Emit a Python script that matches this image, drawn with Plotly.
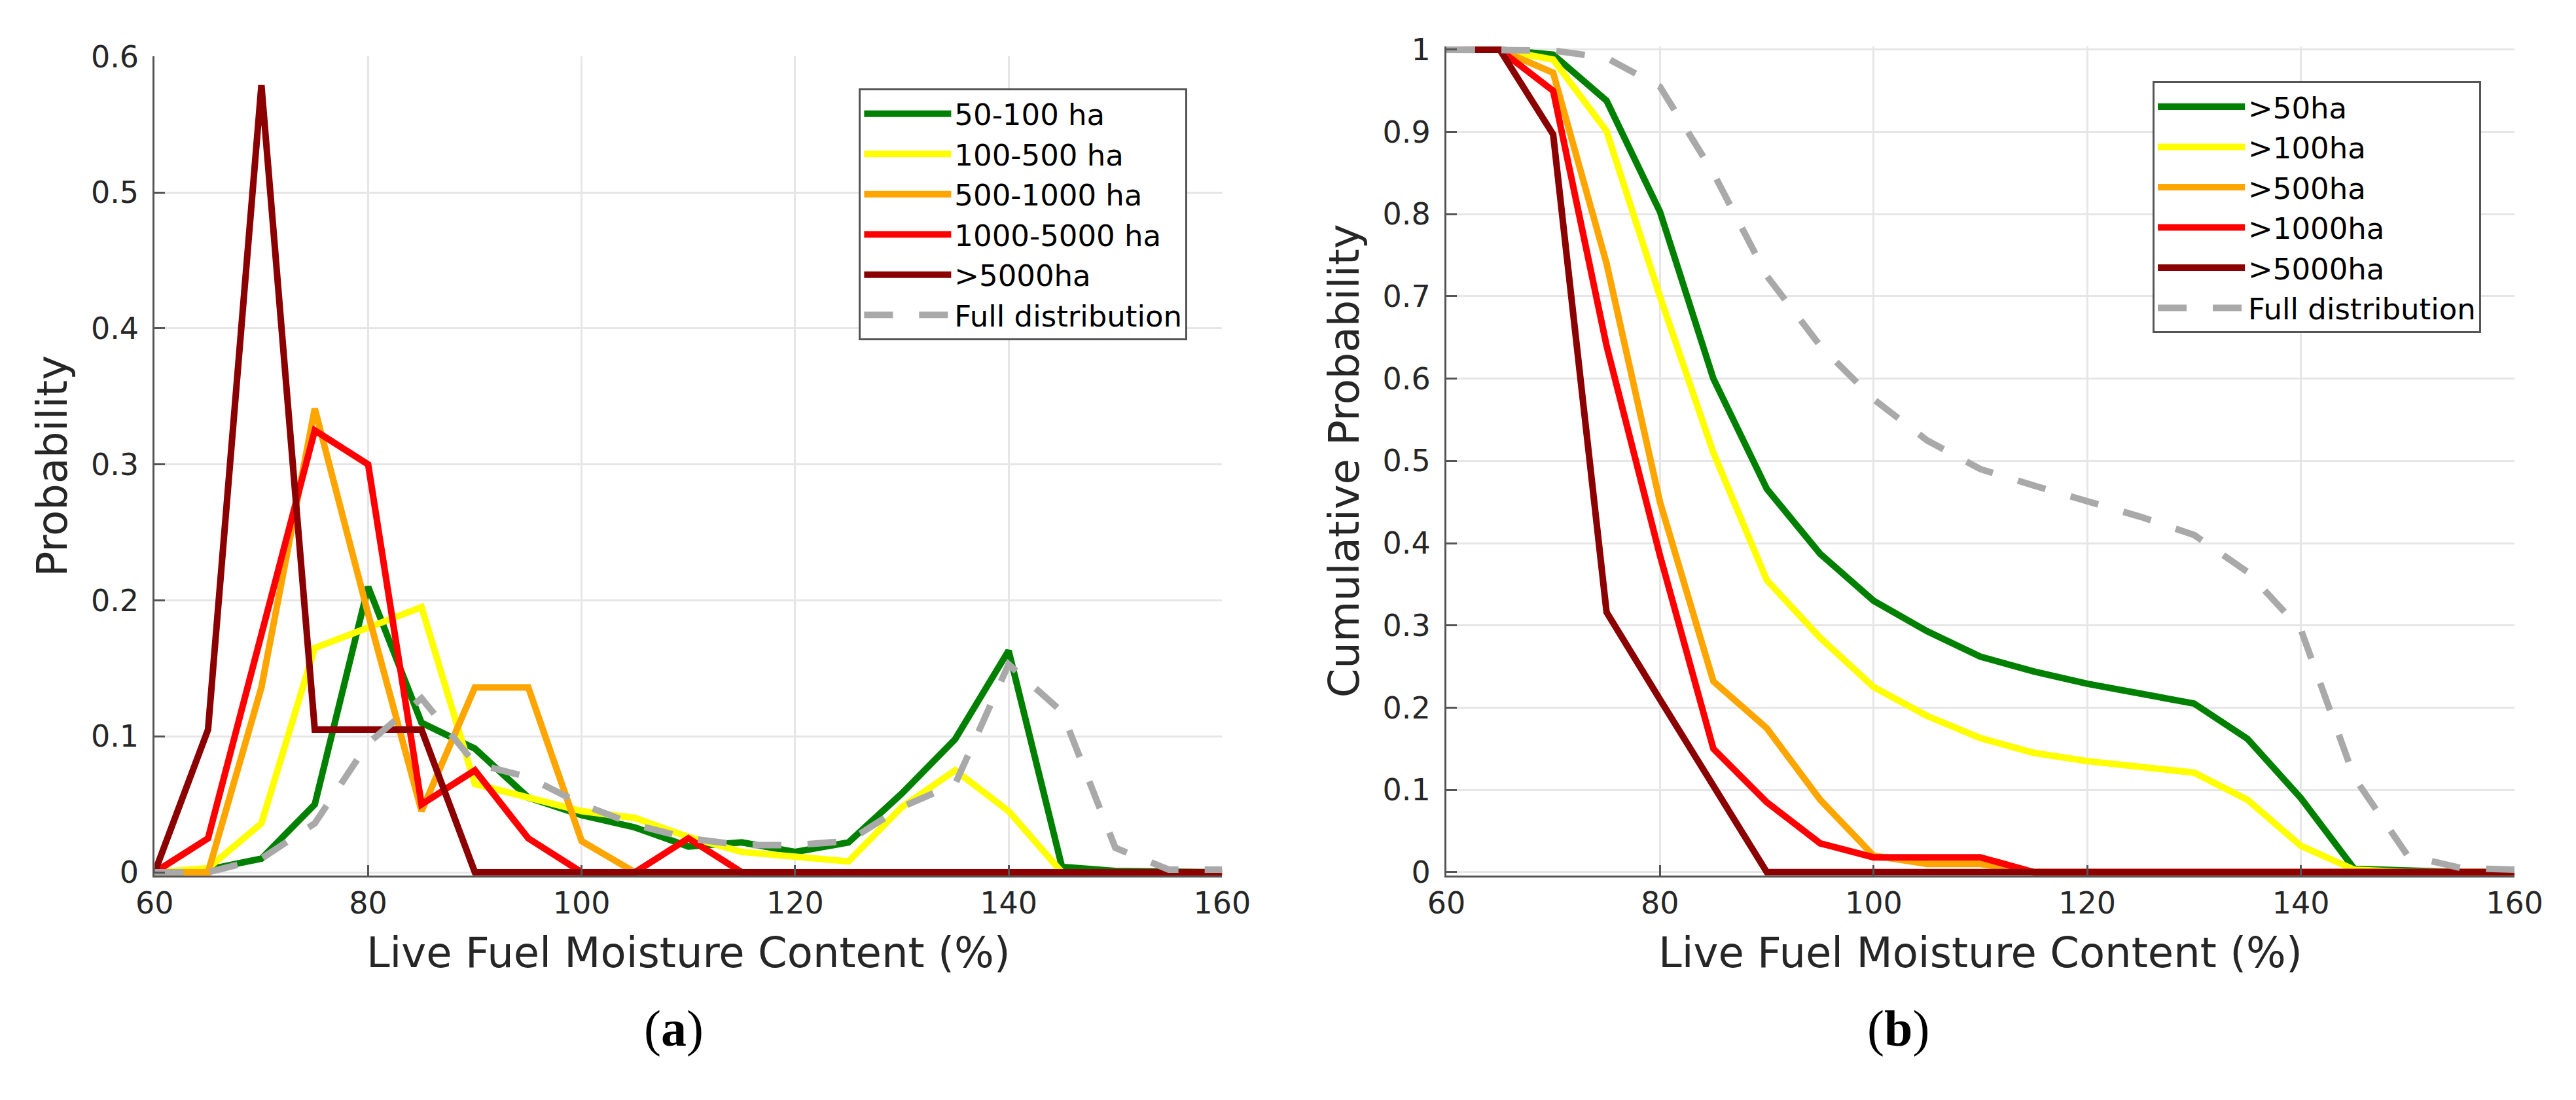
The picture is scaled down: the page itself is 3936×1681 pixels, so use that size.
import plotly.graph_objects as go

# fuel moisture bins (%)
lfmc = [60, 65, 70, 75, 80, 85, 90, 95, 100, 105, 110, 115, 120, 125, 130, 135, 140, 145, 150, 155, 160]

# (a) probability per fire size class
p_50_100 = [0, 0.002, 0.010, 0.050, 0.210, 0.110, 0.091, 0.055, 0.042, 0.033, 0.019, 0.022, 0.015, 0.022, 0.058, 0.098, 0.163, 0.004, 0.001, 0, 0]
p_100_500 = [0, 0.003, 0.036, 0.165, 0.180, 0.195, 0.065, 0.055, 0.045, 0.040, 0.026, 0.015, 0.012, 0.008, 0.048, 0.075, 0.045, 0, 0, 0, 0]
p_500_1000 = [0, 0, 0.136, 0.341, 0.190, 0.045, 0.136, 0.136, 0.023, 0, 0, 0, 0, 0, 0, 0, 0, 0, 0, 0, 0]
p_1000_5000 = [0, 0.025, 0.175, 0.325, 0.300, 0.050, 0.075, 0.025, 0, 0, 0.025, 0, 0, 0, 0, 0, 0, 0, 0, 0, 0]
p_5000 = [0, 0.105, 0.579, 0.105, 0.105, 0.105, 0, 0, 0, 0, 0, 0, 0, 0, 0, 0, 0, 0, 0, 0, 0]
p_full = [0, 0, 0.010, 0.036, 0.095, 0.128, 0.080, 0.070, 0.050, 0.035, 0.025, 0.020, 0.020, 0.023, 0.048, 0.065, 0.153, 0.118, 0.018, 0.002, 0.002]

# (b) cumulative probability
c_50 = [1, 1, 0.994, 0.938, 0.803, 0.600, 0.466, 0.387, 0.330, 0.293, 0.262, 0.244, 0.229, 0.218, 0.205, 0.162, 0.090, 0.004, 0.002, 0, 0]
c_100 = [1, 1, 0.988, 0.901, 0.700, 0.510, 0.355, 0.285, 0.225, 0.190, 0.163, 0.145, 0.135, 0.127, 0.121, 0.088, 0.032, 0.003, 0, 0, 0]
c_500 = [1, 1, 0.972, 0.740, 0.450, 0.232, 0.175, 0.088, 0.020, 0.010, 0.010, 0, 0, 0, 0, 0, 0, 0, 0, 0, 0]
c_1000 = [1, 1, 0.950, 0.640, 0.385, 0.150, 0.085, 0.035, 0.018, 0.018, 0.018, 0, 0, 0, 0, 0, 0, 0, 0, 0, 0]
c_5000 = [1, 1, 0.897, 0.316, 0.210, 0.105, 0, 0, 0, 0, 0, 0, 0, 0, 0, 0, 0, 0, 0, 0, 0]
c_full = [1, 1, 0.999, 0.990, 0.955, 0.850, 0.725, 0.640, 0.575, 0.525, 0.490, 0.470, 0.452, 0.432, 0.410, 0.365, 0.295, 0.115, 0.020, 0.005, 0.003]

names_a = ['50-100 ha', '100-500 ha', '500-1000 ha', '1000-5000 ha', '>5000ha', 'Full distribution']
names_b = ['>50ha', '>100ha', '>500ha', '>1000ha', '>5000ha', 'Full distribution']
colors = ['#008000', '#ffff00', '#ffa500', '#ff0000', '#8b0000', '#a9a9a9']

FONT = 'DejaVu Sans'
LW = 10

fig = go.Figure()

for name, ys, col in zip(names_a, [p_50_100, p_100_500, p_500_1000, p_1000_5000, p_5000, p_full], colors):
    dash = '44px,40px' if name == 'Full distribution' else 'solid'
    fig.add_trace(go.Scatter(x=lfmc, y=ys, mode='lines', name=name,
                             line=dict(color=col, width=LW, dash=dash),
                             xaxis='x', yaxis='y', legend='legend'))

for name, ys, col in zip(names_b, [c_50, c_100, c_500, c_1000, c_5000, c_full], colors):
    dash = '44px,40px' if name == 'Full distribution' else 'solid'
    fig.add_trace(go.Scatter(x=lfmc, y=ys, mode='lines', name=name,
                             line=dict(color=col, width=LW, dash=dash),
                             xaxis='x2', yaxis='y2', legend='legend2'))

axis_common = dict(
    showline=True, linecolor='#555555', linewidth=3,
    ticks='inside', ticklen=16, tickwidth=3, tickcolor='#555555',
    showgrid=True, gridcolor='#e6e6e6', gridwidth=3,
    zeroline=False,
    tickfont=dict(family=FONT, size=46, color='#262626'),
)

title_font = dict(family=FONT, size=64, color='#262626')

legend_common = dict(
    xanchor='right', yanchor='top',
    bgcolor='white', bordercolor='#555555', borderwidth=3,
    font=dict(family=FONT, size=45, color='black'),
    itemwidth=133, tracegroupgap=0,
)

fig.update_layout(
    width=3936, height=1681,
    margin=dict(l=0, r=0, t=0, b=0),
    paper_bgcolor='white', plot_bgcolor='white',
    xaxis=dict(domain=[0.0516, 0.4738], range=[60, 160], tickvals=[60, 80, 100, 120, 140, 160],
               anchor='y', title=dict(text='Live Fuel Moisture Content (%)', font=title_font, standoff=28),
               **axis_common),
    yaxis=dict(domain=[0.2017, 0.9685], range=[-0.0023, 0.6], tickvals=[0, 0.1, 0.2, 0.3, 0.4, 0.5, 0.6],
               anchor='x', ticklabelstandoff=12,
               title=dict(text='Probability', font=title_font, standoff=16),
               **axis_common),
    xaxis2=dict(domain=[0.5625, 0.9850], range=[60, 160], tickvals=[60, 80, 100, 120, 140, 160],
                anchor='y2', title=dict(text='Live Fuel Moisture Content (%)', font=title_font, standoff=28),
                **axis_common),
    yaxis2=dict(domain=[0.2017, 0.9780], range=[-0.004, 1.004],
                tickvals=[0, 0.1, 0.2, 0.3, 0.4, 0.5, 0.6, 0.7, 0.8, 0.9, 1],
                ticktext=['0', '0.1', '0.2', '0.3', '0.4', '0.5', '0.6', '0.7', '0.8', '0.9', '1'],
                anchor='x2', ticklabelstandoff=12,
                title=dict(text='Cumulative Probability', font=title_font, standoff=16),
                **axis_common),
    legend=dict(x=0.4601, y=0.9387, **legend_common),
    legend2=dict(x=0.9718, y=0.9453, **legend_common),
    annotations=[
        dict(text='(<b>a</b>)', x=963 / 3936, y=1 - 1630 / 1681, xref='paper', yref='paper',
             showarrow=False, font=dict(family='Liberation Serif', size=78, color='black')),
        dict(text='(<b>b</b>)', x=2968 / 3936, y=1 - 1630 / 1681, xref='paper', yref='paper',
             showarrow=False, font=dict(family='Liberation Serif', size=78, color='black')),
    ],
)

fig.write_html("out.html")
